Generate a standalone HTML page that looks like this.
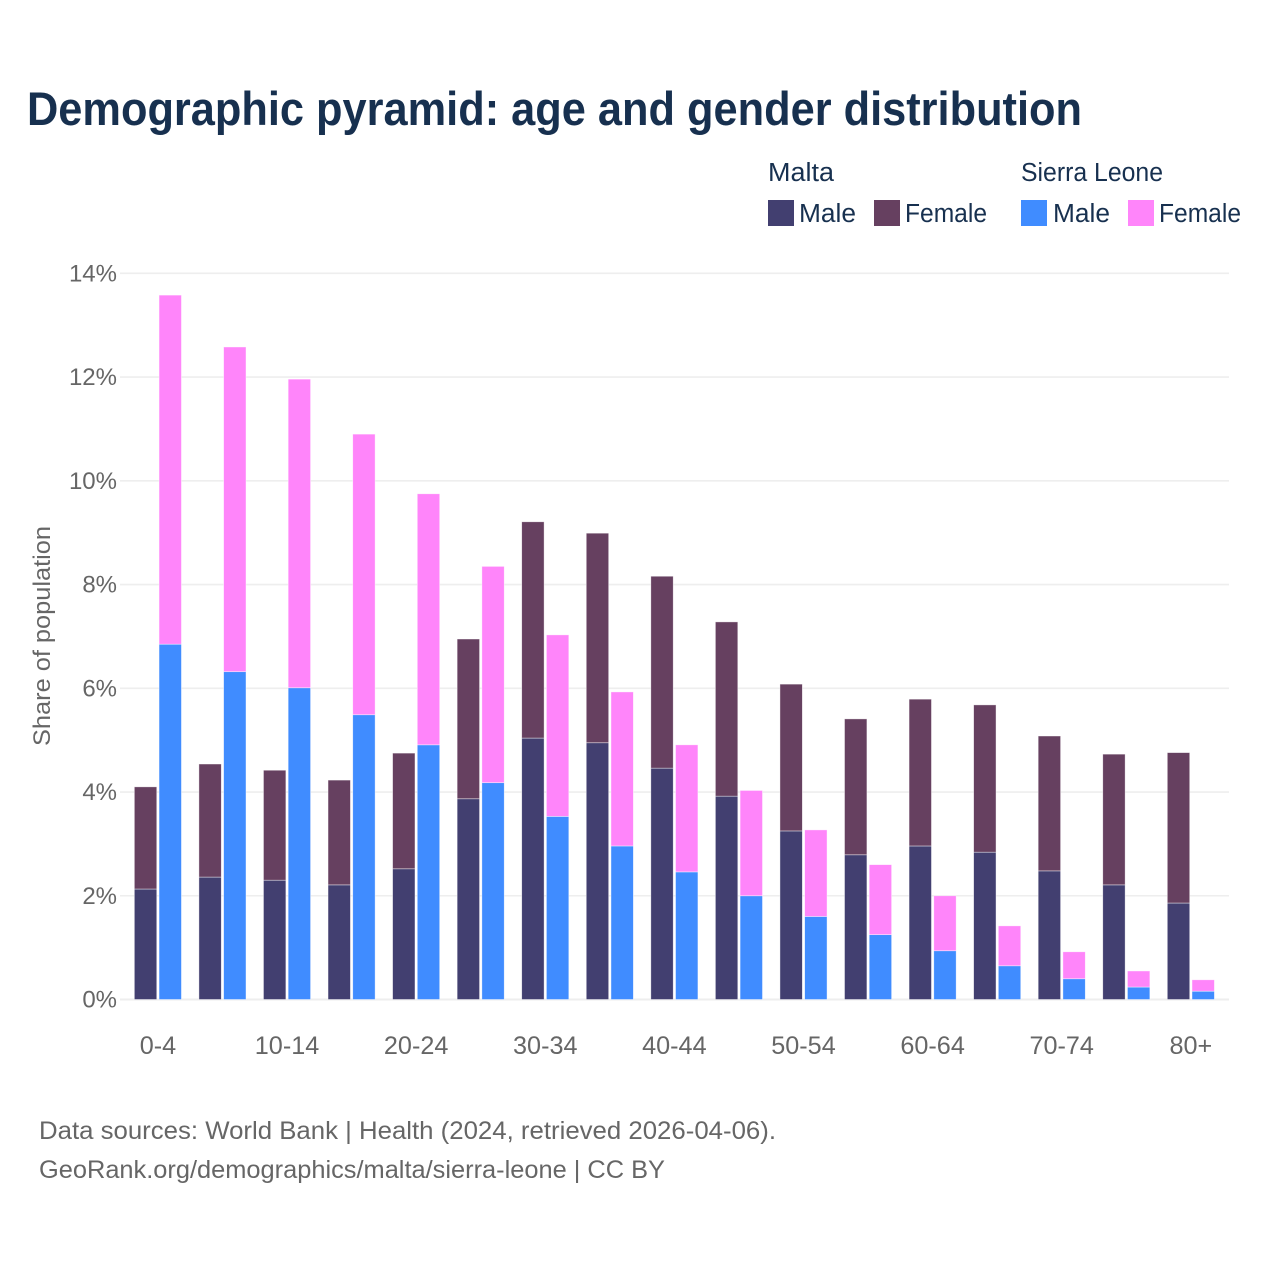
<!DOCTYPE html>
<html lang="en">
<head>
<meta charset="utf-8">
<title>Demographic pyramid</title>
<style>
html,body{margin:0;padding:0;background:#fff;width:1280px;height:1280px;overflow:hidden}
svg{display:block}
text{font-family:"Liberation Sans",sans-serif}
</style>
</head>
<body>
<svg id="chart" xmlns="http://www.w3.org/2000/svg" width="1280" height="1280" viewBox="0 0 1280 1280">
  <rect width="1280" height="1280" fill="#ffffff"/>
  <text x="27" y="125" font-size="47" font-weight="700" fill="#17304f" textLength="1055" lengthAdjust="spacingAndGlyphs">Demographic pyramid: age and gender distribution</text>

  <g font-size="25.5" fill="#17304f">
    <text x="768" y="181" textLength="66" lengthAdjust="spacingAndGlyphs">Malta</text>
    <text x="1021" y="181" textLength="142" lengthAdjust="spacingAndGlyphs">Sierra Leone</text>
    <rect x="768" y="200" width="26" height="26" fill="#423f70"/>
    <text x="799" y="222" textLength="57" lengthAdjust="spacingAndGlyphs">Male</text>
    <rect x="874" y="200" width="26" height="26" fill="#664060"/>
    <text x="905" y="222" textLength="82" lengthAdjust="spacingAndGlyphs">Female</text>
    <rect x="1021" y="200" width="26" height="26" fill="#408cff"/>
    <text x="1053" y="222" textLength="57" lengthAdjust="spacingAndGlyphs">Male</text>
    <rect x="1128" y="200" width="26" height="26" fill="#ff85fa"/>
    <text x="1159" y="222" textLength="82" lengthAdjust="spacingAndGlyphs">Female</text>
  </g>

  <g id="grid"></g>
  <g id="bars"></g>
  <g id="yticks"></g>
  <g id="xticks"></g>

  <text transform="translate(50,636) rotate(-90)" text-anchor="middle" font-size="24" fill="#666666" textLength="220" lengthAdjust="spacingAndGlyphs">Share of population</text>

  <text x="39" y="1139" font-size="25" fill="#666666" textLength="737" lengthAdjust="spacingAndGlyphs">Data sources: World Bank | Health (2024, retrieved 2026-04-06).</text>
  <text x="39" y="1178" font-size="25" fill="#666666" textLength="626" lengthAdjust="spacingAndGlyphs">GeoRank.org/demographics/malta/sierra-leone | CC BY</text>
</svg>
<script>
const categories = ["0-4","5-9","10-14","15-19","20-24","25-29","30-34","35-39","40-44","45-49","50-54","55-59","60-64","65-69","70-74","75-79","80+"];
const maltaMale = [2.13,2.36,2.30,2.21,2.52,3.87,5.04,4.95,4.46,3.92,3.25,2.79,2.96,2.84,2.48,2.21,1.86];
const maltaFemale = [1.97,2.18,2.12,2.02,2.23,3.08,4.17,4.04,3.70,3.36,2.83,2.62,2.83,2.84,2.60,2.52,2.90];
const sierraMale = [6.85,6.32,6.01,5.49,4.91,4.18,3.53,2.96,2.46,2.00,1.60,1.25,0.94,0.65,0.40,0.24,0.16];
const sierraFemale = [6.73,6.26,5.95,5.41,4.84,4.17,3.50,2.97,2.45,2.03,1.67,1.35,1.06,0.77,0.52,0.31,0.22];
const yTickValues = [0,2,4,6,8,10,12,14];

const NS = "http://www.w3.org/2000/svg";
function yScale(v){ return 999.5 - v * 51.87; }
function bandCenter(i){ return 157.9 + i * 64.56; }
const barWidth = 22.4;
const barOffset = 12.35;

function makeRect(parent, x, top, bottom, fill){
  const r = document.createElementNS(NS, "rect");
  r.setAttribute("x", x);
  r.setAttribute("y", top);
  r.setAttribute("width", barWidth);
  r.setAttribute("height", Math.max(0, bottom - top));
  r.setAttribute("fill", fill);
  r.setAttribute("stroke", "#ffffff");
  r.setAttribute("stroke-opacity", "0.6");
  r.setAttribute("stroke-width", "0.7");
  parent.appendChild(r);
  return r;
}

const grid = document.getElementById("grid");
const yticks = document.getElementById("yticks");
yTickValues.forEach(function(v){
  const line = document.createElementNS(NS, "line");
  
  
  line.setAttribute("x1", 120);
  line.setAttribute("x2", 1229);
  line.setAttribute("y1", yScale(v));
  line.setAttribute("y2", yScale(v));
  line.setAttribute("stroke", "#eeeeee");
  line.setAttribute("stroke-width", v === 0 ? 2 : 1.6);
  grid.appendChild(line);
  const t = document.createElementNS(NS, "text");
  
  
  t.setAttribute("x", 117);
  t.setAttribute("y", yScale(v) + 8);
  t.setAttribute("text-anchor", "end");
  t.setAttribute("font-size", "24");
  t.setAttribute("fill", "#666666");
  t.textContent = v + "%";
  yticks.appendChild(t);
});

const bars = document.getElementById("bars");
const xticks = document.getElementById("xticks");
categories.forEach(function(cat, i){
  const c = bandCenter(i);
  const xLeft = c - barOffset - barWidth / 2;
  const xRight = c + barOffset - barWidth / 2;
  const mTop = maltaMale[i] + maltaFemale[i];
  const sTop = sierraMale[i] + sierraFemale[i];

  const a = makeRect(bars, xLeft, yScale(maltaMale[i]), yScale(0), "#423f70");
  
  
  const b = makeRect(bars, xLeft, yScale(mTop), yScale(maltaMale[i]), "#664060");
  
  
  const d = makeRect(bars, xRight, yScale(sierraMale[i]), yScale(0), "#408cff");
  
  
  const e = makeRect(bars, xRight, yScale(sTop), yScale(sierraMale[i]), "#ff85fa");
  
  

  if (i % 2 === 0) {
    const t = document.createElementNS(NS, "text");
    
    
    t.setAttribute("x", c);
    t.setAttribute("y", 1054);
    t.setAttribute("text-anchor", "middle");
    t.setAttribute("font-size", "25.2");
    t.setAttribute("fill", "#666666");
    t.textContent = cat;
    xticks.appendChild(t);
  }
});
</script>
</body>
</html>
